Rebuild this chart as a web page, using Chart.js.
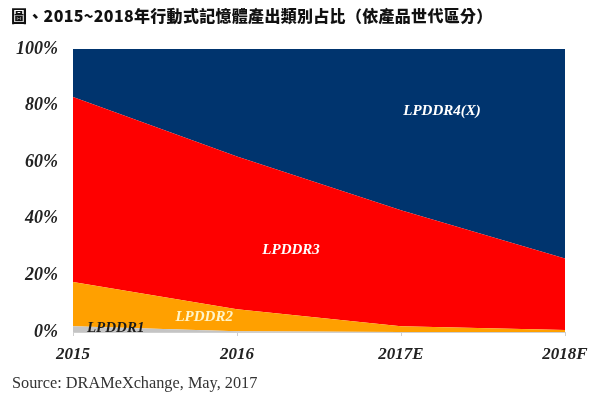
<!DOCTYPE html>
<html>
<head>
<meta charset="utf-8">
<script src="https://cdn.jsdelivr.net/npm/chart.js@4"></script>
<style>
html,body{margin:0;padding:0;background:#fff;}
#wrap{position:relative;width:600px;height:396px;overflow:hidden;}
#title{position:absolute;left:11px;top:3px;font-family:"Noto Sans CJK TC","Noto Sans CJK SC",sans-serif;font-weight:900;font-size:16px;color:#111;white-space:nowrap;letter-spacing:0.3px;}
#source{position:absolute;left:12px;top:373px;font-family:"Liberation Serif","DejaVu Serif",serif;font-size:16.3px;color:#333;white-space:nowrap;}
canvas{position:absolute;left:0;top:0;}
</style>
</head>
<body>
<div id="wrap">
<canvas id="c" width="600" height="396"></canvas>
<div id="title">圖、2015~2018年行動式記憶體產出類別占比（依產品世代區分）</div>
<div id="source">Source: DRAMeXchange, May, 2017</div>
</div>
<script>
const categories = ["2015", "2016", "2017E", "2018F"];
const lpddr1 = [2, 0.3, 0, 0];
const lpddr2 = [15.7, 7.7, 2, 0.7];
const lpddr3 = [65.3, 54, 41, 25.3];
const lpddr4 = [17, 38, 57, 74];
const yTicks = [0, 20, 40, 60, 80, 100];

const seriesNames = ["LPDDR1", "LPDDR2", "LPDDR3", "LPDDR4(X)"];
const seriesData = [lpddr1, lpddr2, lpddr3, lpddr4];
const seriesColors = ["#c4c4c4", "#ffa000", "#fe0000", "#00346e"];
// label anchor: [category index position, percent]
const labelPos = [[0.26, 1.2], [0.8, 5.3], [1.33, 29], [2.25, 78]];
const labelColors = ["#1a1a1a", "#fff4c8", "#ffffff", "#ffffff"];

const tickFont = {family: "'Liberation Serif','DejaVu Serif',serif", size: 17, weight: 'bold', style: 'italic'};
const yTickFont = {family: "'Liberation Serif','DejaVu Serif',serif", size: 18, weight: 'bold', style: 'italic'};

const areaLabels = {
  id: 'areaLabels',
  afterDatasetsDraw(chart) {
    const {ctx, scales: {x, y}} = chart;
    ctx.save();
    ctx.font = "italic bold 15px 'Liberation Serif','DejaVu Serif',serif";
    ctx.textAlign = 'center';
    ctx.textBaseline = 'middle';
    seriesNames.forEach((n, i) => {
      const px = x.getPixelForValue(labelPos[i][0]);
      const py = y.getPixelForValue(labelPos[i][1]);
      ctx.fillStyle = labelColors[i];
      ctx.fillText(n, px, py);
    });
    ctx.restore();
  }
};

new Chart(document.getElementById('c'), {
  type: 'line',
  data: {
    labels: categories,
    datasets: seriesData.map((d, i) => ({
      label: seriesNames[i],
      data: d,
      backgroundColor: seriesColors[i],
      borderColor: seriesColors[i],
      borderWidth: 0,
      pointRadius: 0,
      tension: 0,
      fill: i === 0 ? 'origin' : '-1'
    }))
  },
  options: {
    responsive: false,
    animation: false,
    layout: {padding: {left: 0, right: 35, top: 49, bottom: 0}},
    plugins: {legend: {display: false}, tooltip: {enabled: false}, title: {display: false}},
    scales: {
      x: {
        offset: false,
        grid: {drawOnChartArea: false, drawTicks: true, tickLength: 4, color: '#cfcfcf'},
        border: {display: true, color: '#cfcfcf'},
        ticks: {font: tickFont, color: '#222', padding: 8, maxRotation: 0},
        afterFit(s) { s.height = 64; }
      },
      y: {
        stacked: true,
        min: 0, max: 100,
        grid: {display: false},
        border: {display: false},
        afterBuildTicks(s) { s.ticks = yTicks.map(v => ({value: v})); },
        ticks: {font: yTickFont, color: '#222', padding: 7, callback: v => v + '%'},
        afterFit(s) { s.width = 73; }
      }
    }
  },
  plugins: [areaLabels]
});
</script>
</body>
</html>
